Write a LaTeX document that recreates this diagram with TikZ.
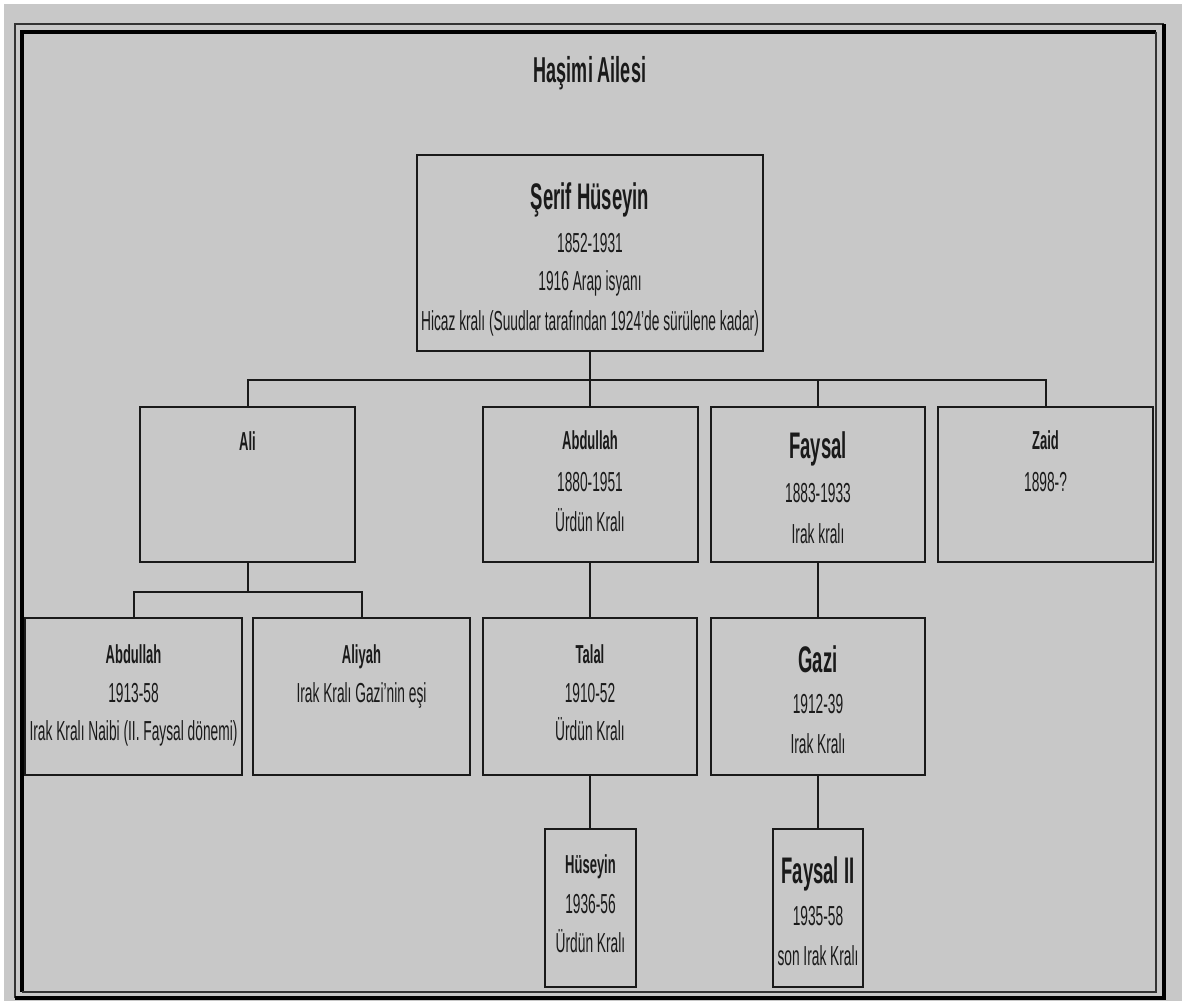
\documentclass[tikz,border=0pt]{standalone}
\usepackage{fontspec}
\setmainfont{Liberation Sans}[FakeStretch=0.5]
\definecolor{bg}{HTML}{C8C8C8}
\definecolor{ink}{HTML}{1A1A1A}
\definecolor{thinline}{HTML}{333333}
\begin{document}
\begin{tikzpicture}[x=1pt,y=-1pt,
  box/.style={draw=ink, line width=2pt, inner sep=0pt, outer sep=0pt},
  conn/.style={draw=ink, line width=2pt},
  txt/.style={anchor=base, inner sep=0pt, outer sep=0pt, text=ink, font=\fontsize{27.5}{30}\selectfont},
  nm/.style={txt, font=\fontsize{26}{30}\selectfont\bfseries},
  big/.style={txt, font=\fontsize{37}{40}\selectfont\bfseries},
  ttl/.style={txt, font=\fontsize{36}{40}\selectfont\bfseries},
  framethin/.style={draw=thinline, line width=1.5pt},
  framethick/.style={draw=black, line width=4pt}
]
\useasboundingbox (0,0) rectangle (1182,1001);
\fill[white] (0,0) rectangle (1182,1001);
\fill[bg] (4,4) rectangle (1182,1001);
% frame
\draw[framethin] (15,998) -- (15,24) -- (1164,24);
\draw[framethick] (1164,24) -- (1164,998) -- (15,998);
\draw[framethick] (22,992) -- (22,31.5) -- (1156,31.5);
\draw[framethin] (1156,31.5) -- (1156,992) -- (22,992);

\node[ttl] (title) at (590,82) {Haşimi Ailesi};

% boxes
\node[box, minimum width=346, minimum height=196] (s) at (590,253) {};
\node[box, minimum width=215, minimum height=155] (ali) at (247.5,484.5) {};
\node[box, minimum width=215, minimum height=155] (abd) at (590,484.5) {};
\node[box, minimum width=214, minimum height=155] (fay) at (818,484.5) {};
\node[box, minimum width=215, minimum height=155] (zaid) at (1045.5,484.5) {};
\node[box, minimum width=217, minimum height=157] (abdb) at (133.5,696.5) {};
\node[box, minimum width=217, minimum height=157] (aliyah) at (361.5,696.5) {};
\node[box, minimum width=214, minimum height=157] (talal) at (590,696.5) {};
\node[box, minimum width=214, minimum height=157] (gazi) at (818,696.5) {};
\node[box, minimum width=91, minimum height=158] (hus) at (590.5,908) {};
\node[box, minimum width=90, minimum height=158] (fayb) at (818,908) {};

% connectors
\coordinate (bus1) at (590,380);
\coordinate (bus2) at (247.5,592);
\draw[conn] (s.south) -- (bus1);
\draw[conn] (ali.north) |- (bus1) -| (zaid.north);
\draw[conn] (abd.north) -- (abd.north |- bus1);
\draw[conn] (fay.north) -- (fay.north |- bus1);
\draw[conn] (ali.south) -- (bus2);
\draw[conn] (abdb.north) |- (bus2) -| (aliyah.north);
\draw[conn] (abd.south) -- (talal.north);
\draw[conn] (talal.south) -- (hus.north -| talal.south);
\draw[conn] (fay.south) -- (gazi.north);
\draw[conn] (gazi.south) -- (fayb.north);

% texts
\node[big] (s1) at (590,209) {Şerif Hüseyin};
\node[txt] (s2) at (590,252) {1852-1931};
\node[txt] (s3) at (590,290) {1916 Arap isyanı};
\node[txt] (s4) at (590,330) {Hicaz kralı (Suudlar tarafından 1924’de sürülene kadar)};

\node[nm] (ali1) at (247.5,450) {Ali};

\node[nm] (abd1) at (590,449) {Abdullah};
\node[txt] (abd2) at (590,491) {1880-1951};
\node[txt] (abd3) at (590,531) {Ürdün Kralı};

\node[big] (fay1) at (818,458) {Faysal};
\node[txt] (fay2) at (818,502) {1883-1933};
\node[txt] (fay3) at (818,543) {Irak kralı};

\node[nm] (zaid1) at (1045.5,449) {Zaid};
\node[txt] (zaid2) at (1045.5,491) {1898-?};

\node[nm] (abdb1) at (133.5,663) {Abdullah};
\node[txt] (abdb2) at (133.5,702) {1913-58};
\node[txt] (abdb3) at (133.5,740) {Irak Kralı Naibi (II. Faysal dönemi)};

\node[nm] (aliyah1) at (361.5,663) {Aliyah};
\node[txt] (aliyah2) at (361.5,702) {Irak Kralı Gazi’nin eşi};

\node[nm] (talal1) at (590,663) {Talal};
\node[txt] (talal2) at (590,702) {1910-52};
\node[txt] (talal3) at (590,740) {Ürdün Kralı};

\node[big] (gazi1) at (818,672) {Gazi};
\node[txt] (gazi2) at (818,713) {1912-39};
\node[txt] (gazi3) at (818,753) {Irak Kralı};

\node[nm] (hus1) at (590.5,873) {Hüseyin};
\node[txt] (hus2) at (590.5,913) {1936-56};
\node[txt] (hus3) at (590.5,952) {Ürdün Kralı};

\node[big] (fayb1) at (818,883) {Faysal II};
\node[txt] (fayb2) at (818,925) {1935-58};
\node[txt] (fayb3) at (818,965) {son Irak Kralı};
\end{tikzpicture}
\end{document}
